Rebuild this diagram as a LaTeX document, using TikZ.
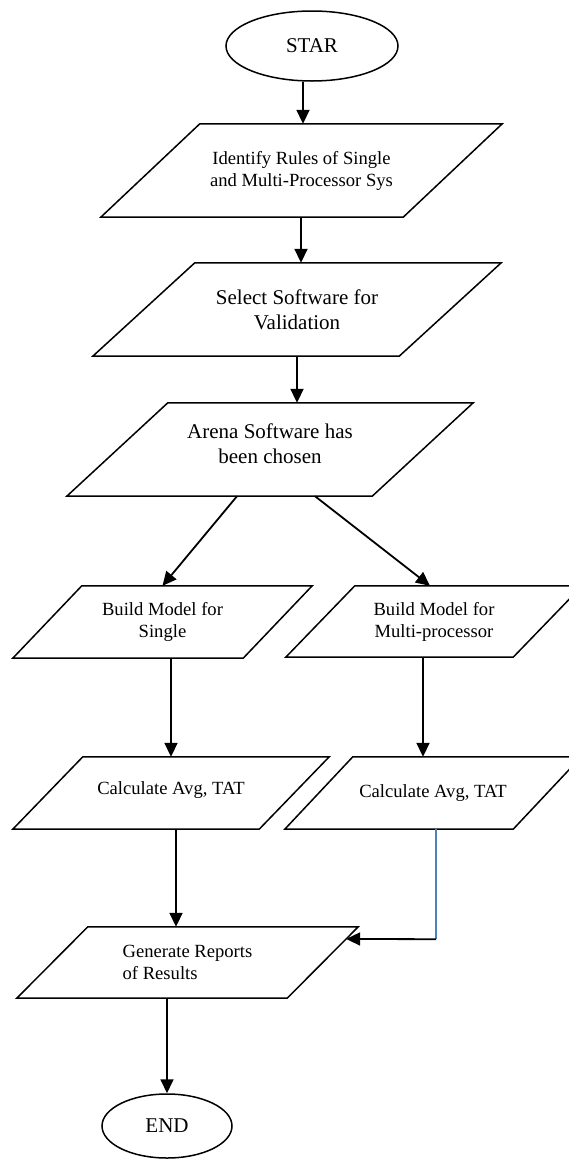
\documentclass[tikz,border=0pt]{standalone}
\usepackage{fontspec}
\setmainfont{Liberation Serif}
\usetikzlibrary{arrows.meta,shapes.geometric,calc}
\definecolor{ink}{HTML}{000000}
\definecolor{wdblue}{HTML}{4F81BD}

\begin{document}
\begin{tikzpicture}[x=1pt, y=-1pt,
  term/.style={draw=ink, ellipse, line width=1.5pt, inner sep=0pt,
               font=\fontsize{21}{25}\selectfont},
  io/.style={rectangle, inner sep=2pt, align=center,
             font=\fontsize{18.6}{22}\selectfont},
  big/.style={font=\fontsize{21}{25}\selectfont},
  rim/.style={draw=ink, line width=1.5pt, line join=miter},
  fl/.style={-{Triangle[length=14pt,width=13pt]}, ink, line width=1.8pt}]

\useasboundingbox (0,0) rectangle (569,1160);

% main column
\node[term, minimum width=172pt, minimum height=70pt] (st) at (312,46) {STAR};
\node[io, minimum width=302pt, minimum height=93pt] (r1) at (301.5,170.5)
  {Identify Rules of Single\\and Multi-Processor Sys};
\node[io, big, minimum width=306pt, minimum height=93pt] (sw) at (297,309.5)
  {Select Software for\\Validation};
\node[io, big, minimum width=305pt, minimum height=93pt] (ar) at (270,449.5)
  {Arena Software has\\been chosen\\[-13pt]};

% the two branches
\node[io, minimum width=230pt, minimum height=72pt] (bs) at (162.5,622)
  {Build Model for\\Single};
\node[io, minimum width=227pt, minimum height=71pt] (bm) at (434,621.5)
  {Build Model for\\Multi-processor};
\node[io, minimum width=246pt, minimum height=72pt] (cs) at (171,793)
  {Calculate Avg, TAT\\[-12pt]};
\node[io, minimum width=228pt, minimum height=72pt] (cm) at (433,793)
  {Calculate Avg, TAT};

% merge and finish
\node[io, align=left, minimum width=270pt, minimum height=71pt] (gr)
  at (187.5,962.5) {Generate Reports\\of Results};
\node[term, minimum width=130pt, minimum height=64pt] (en) at (167,1126) {END};

% parallelogram outlines, half slant per box
\foreach \n/\s in {r1/49.5, sw/51, ar/50.5, bs/34.5, bm/34.5, cs/35, cm/34, gr/35.5}
  \draw[rim] ([xshift=\s pt]\n.north west) -- ([xshift=\s pt]\n.north east)
    -- ([xshift=-\s pt]\n.south east) -- ([xshift=-\s pt]\n.south west) -- cycle;

\draw[fl] ([xshift=-9pt]st.south) -- ([xshift=-9pt]st.south |- r1.north);
\draw[fl] ([xshift=-0.5pt]r1.south) -- ([xshift=-0.5pt]r1.south |- sw.north);
\draw[fl] (sw.south) -- (sw.south |- ar.north);
\draw[fl] ([xshift=-33pt]ar.south) -- (bs.north);
\draw[fl] ([xshift=45pt]ar.south) -- ([xshift=-4pt]bm.north);
\draw[fl] ([xshift=8.5pt]bs.south) -- ([xshift=8.5pt]bs.south |- cs.north);
\draw[fl] ([xshift=-11pt]bm.south) -- ([xshift=-10pt]cm.north);
\draw[fl] ([xshift=5pt]cs.south) -- ([xshift=5pt]cs.south |- gr.north);

% right branch joins from the side
\coordinate (cmb) at ([xshift=3pt]cm.south);
\coordinate (bend) at ($(cmb)+(0,110)$);
\coordinate (grtr) at ([xshift=35.5pt]gr.north east);
\coordinate (grbr) at ([xshift=-35.5pt]gr.south east);
\draw[wdblue, line width=1.1pt] (cmb) -- (bend);
\draw[fl] (bend) -- ($(grtr)!0.17!(grbr)$);

\draw[fl] (gr.south -| en.north) -- (en.north);

\end{tikzpicture}
\end{document}
